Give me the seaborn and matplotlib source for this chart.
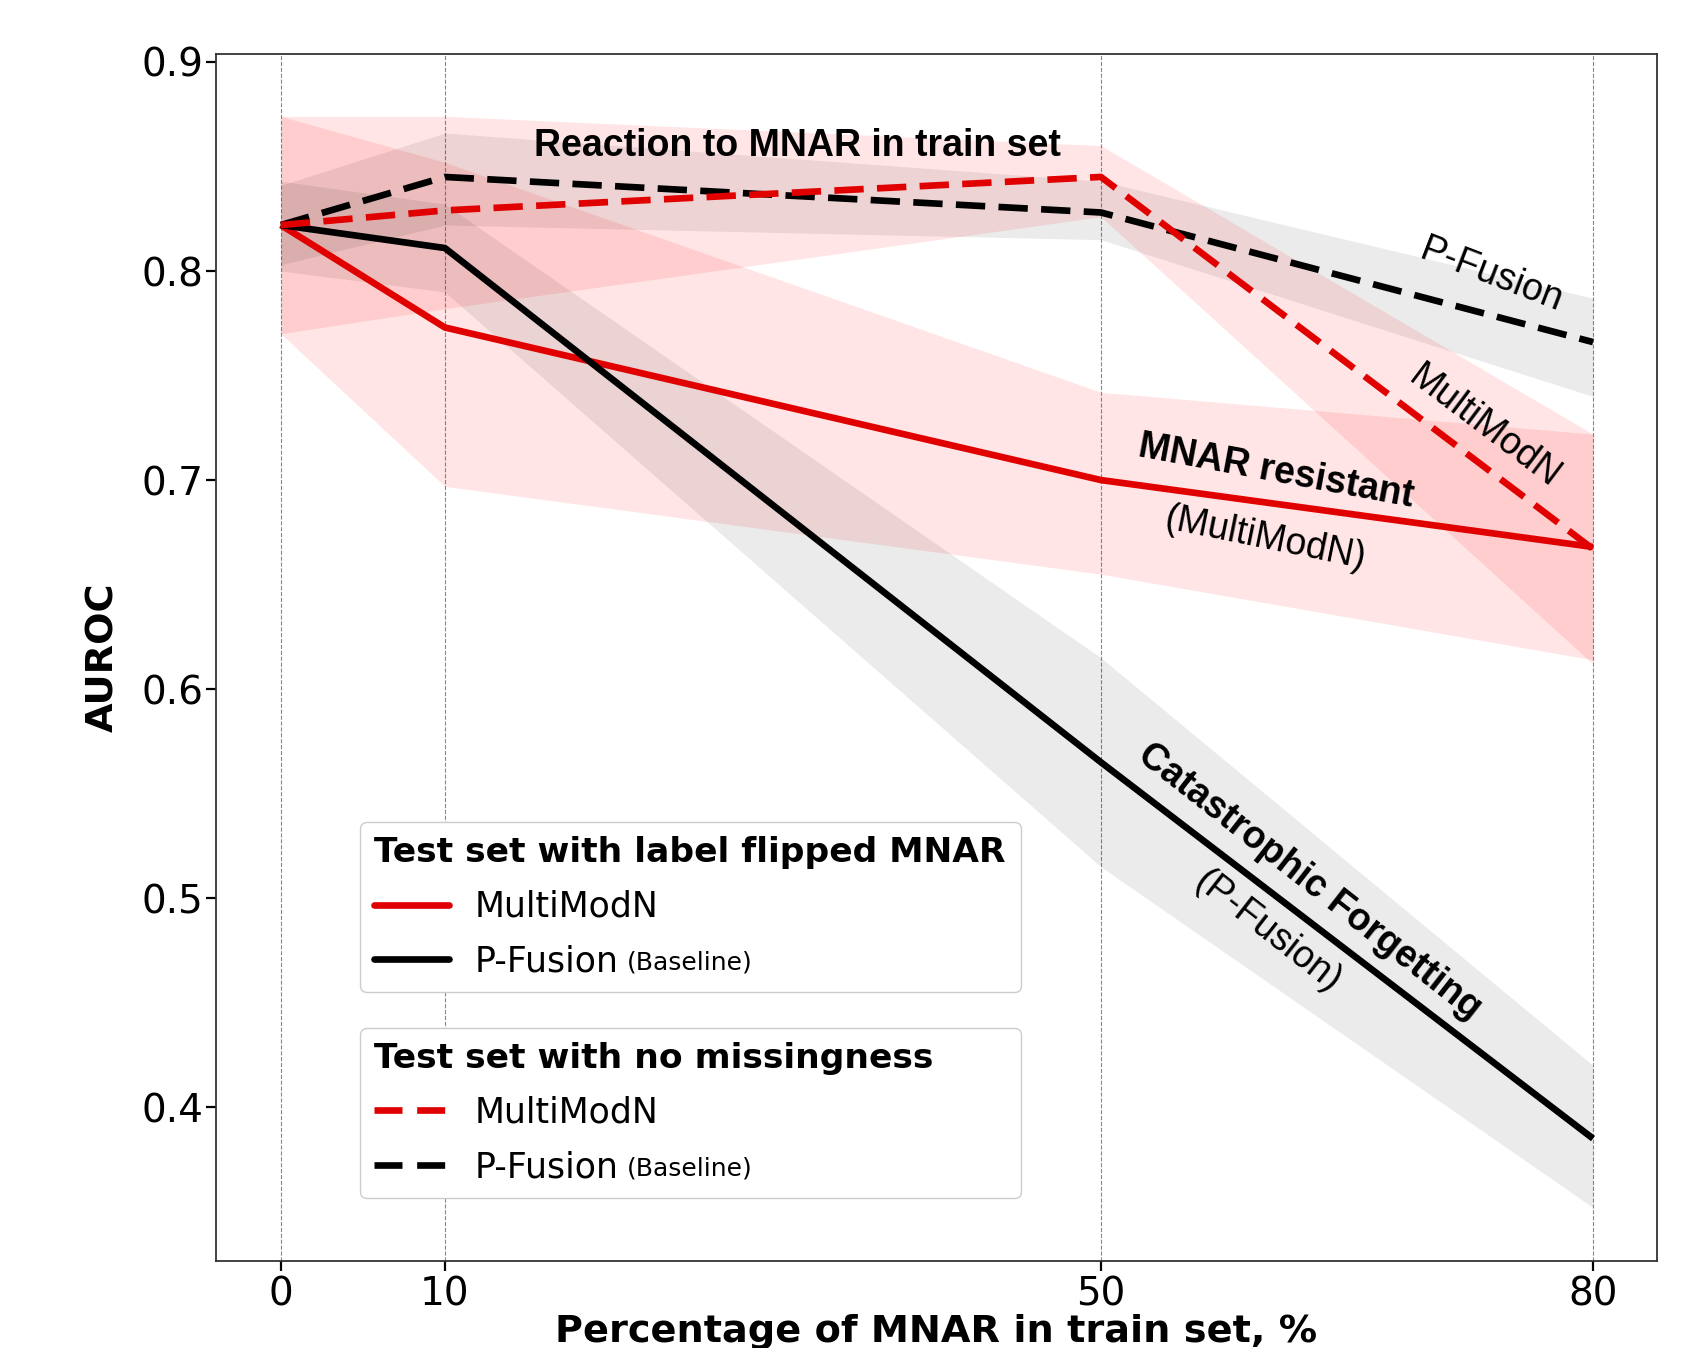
import matplotlib
matplotlib.use("Agg")
import matplotlib.pyplot as plt
from matplotlib.lines import Line2D
import seaborn as sns
import pandas as pd

# ---------------- data ----------------
x_pct = [0, 10, 50, 80]
x_ticklabels = ["0", "10", "50", "80"]
y_ticks = [0.4, 0.5, 0.6, 0.7, 0.8, 0.9]
y_ticklabels = ["0.4", "0.5", "0.6", "0.7", "0.8", "0.9"]

# Test set with label flipped MNAR
mmn_flip = [0.822, 0.773, 0.700, 0.668]
mmn_flip_lo = [0.770, 0.697, 0.655, 0.614]
mmn_flip_hi = [0.874, 0.852, 0.742, 0.722]
pf_flip = [0.822, 0.811, 0.565, 0.385]
pf_flip_lo = [0.800, 0.790, 0.515, 0.352]
pf_flip_hi = [0.843, 0.832, 0.615, 0.420]

# Test set with no missingness
mmn_clean = [0.822, 0.829, 0.845, 0.667]
mmn_clean_lo = [0.770, 0.782, 0.826, 0.612]
mmn_clean_hi = [0.874, 0.874, 0.860, 0.722]
pf_clean = [0.822, 0.845, 0.828, 0.766]
pf_clean_lo = [0.803, 0.822, 0.815, 0.740]
pf_clean_hi = [0.841, 0.866, 0.843, 0.787]

RED = "#e00000"
BLACK = "#000000"

sns.set_theme(style="ticks")
plt.rcParams["font.family"] = ["DejaVu Sans"]
plt.rcParams["text.color"] = "black"
plt.rcParams["axes.labelcolor"] = "black"
plt.rcParams["xtick.color"] = "black"
plt.rcParams["ytick.color"] = "black"

fig = plt.figure(figsize=(17.07, 13.48), dpi=100)
ax = fig.add_axes([0.1263, 0.0648, 0.8444, 0.8948])

series = [
    ("mmn_flip", mmn_flip, mmn_flip_lo, mmn_flip_hi, RED, "-"),
    ("pf_flip", pf_flip, pf_flip_lo, pf_flip_hi, BLACK, "-"),
    ("pf_clean", pf_clean, pf_clean_lo, pf_clean_hi, BLACK, "--"),
    ("mmn_clean", mmn_clean, mmn_clean_lo, mmn_clean_hi, RED, "--"),
]

# bands
for name, y, lo, hi, col, ls in series:
    if col == RED:
        ax.fill_between(x_pct, lo, hi, color="red", alpha=0.10, linewidth=0, zorder=1)
    else:
        ax.fill_between(x_pct, lo, hi, color="black", alpha=0.08, linewidth=0, zorder=1)

# lines
for name, y, lo, hi, col, ls in series:
    df = pd.DataFrame({"x": x_pct, "y": y})
    n_before = len(ax.lines)
    sns.lineplot(data=df, x="x", y="y", ax=ax, color=col, linewidth=4.8,
                 zorder=3, legend=False)
    line = ax.lines[n_before]
    line.set_solid_capstyle("butt")
    if ls == "--":
        line.set_linestyle((0, (4.4, 2.0)))
        line.set_dash_capstyle("butt")

ax.set_xlim(-3.98, 83.9)
ax.set_ylim(0.3266, 0.9036)
ax.set_xticks(x_pct)
ax.set_xticklabels(x_ticklabels)
ax.set_yticks(y_ticks)
ax.set_yticklabels(y_ticklabels)
ax.tick_params(axis="both", labelsize=28, length=7, width=1.6, color="black",
               direction="out")
ax.tick_params(axis="y", pad=2)
ax.tick_params(axis="x", pad=4)
ax.xaxis.grid(True, linestyle="--", linewidth=0.8, color="#888888", zorder=0)
ax.set_axisbelow(True)
for sp in ax.spines.values():
    sp.set_visible(True)
    sp.set_color("#333333")
    sp.set_linewidth(1.3)

ax.set_xlabel("Percentage of MNAR in train set, %", fontsize=27.5, fontweight="bold", labelpad=0)
ax.set_ylabel("AUROC", fontsize=27.5, fontweight="bold", labelpad=14)

# annotations
ann_font = ["Liberation Sans", "DejaVu Sans"]
def note(txt, x, y, rot, size=27, weight="normal"):
    ax.text(x, y, txt, rotation=rot, rotation_mode="anchor", ha="center", va="center",
            fontsize=size, fontweight=weight, family=ann_font, zorder=5)

note("Reaction to MNAR in train set", 31.5, 0.860, 0, 27, "bold")
note("P-Fusion", 73.8, 0.798, -21, 27)
note("MultiModN", 73.4, 0.7255, -37, 27)
note("MNAR resistant", 60.7, 0.704, -10.5, 27, "bold")
note("(MultiModN)", 60.0, 0.672, -11.5, 27)
note("Catastrophic Forgetting", 62.7, 0.508, -38, 27, "bold")
note("(P-Fusion)", 60.2, 0.484, -38, 27)

# legends
lw_leg = 4.8
h_flip = [Line2D([], [], color=RED, lw=lw_leg), Line2D([], [], color=BLACK, lw=lw_leg)]
h_clean = [Line2D([], [], color=RED, lw=lw_leg, ls=(0, (4.2, 2.2))),
           Line2D([], [], color=BLACK, lw=lw_leg, ls=(0, (4.2, 2.2)))]
labels = ["MultiModN", "P-Fusion"]

leg_kw = dict(loc="upper left", mode="expand", fontsize=25, title_fontsize=24.8,
              handlelength=2.15, handletextpad=0.75, labelspacing=0.6,
              borderpad=0.4, frameon=True, fancybox=True, framealpha=1.0,
              edgecolor="#cccccc", alignment="left", borderaxespad=0)

leg1 = ax.legend(h_flip, labels, title="Test set with label flipped MNAR",
                 bbox_to_anchor=(0.1005, 0.0, 0.458, 0.3637), **leg_kw)
leg1.get_title().set_fontweight("bold")
ax.add_artist(leg1)
leg2 = ax.legend(h_clean, labels, title="Test set with no missingness",
                 bbox_to_anchor=(0.1005, 0.0, 0.458, 0.193), **leg_kw)
leg2.get_title().set_fontweight("bold")

for leg in (leg1, leg2):
    t = leg.get_texts()[1]
    ax.annotate("(Baseline)", xy=(1, 0), xycoords=t, xytext=(6, 3),
                textcoords="offset points", ha="left", va="bottom", fontsize=18,
                zorder=10)

fig.savefig("out.png", dpi=100)
